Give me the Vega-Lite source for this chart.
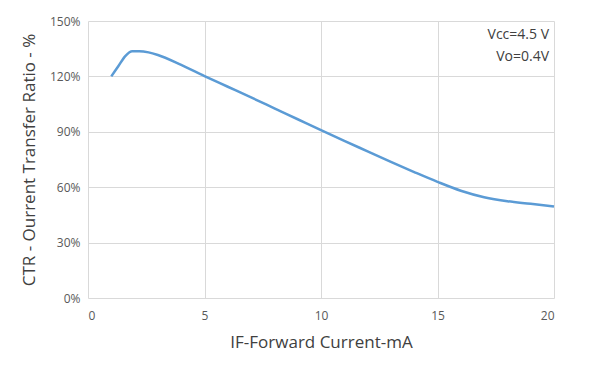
{
  "$schema": "https://vega.github.io/schema/vega-lite/v6.json",
  "autosize": "none",
  "width": 466,
  "height": 277,
  "padding": {"left": 88, "top": 21, "right": 43, "bottom": 87},
  "background": "white",
  "config": {
    "view": {"stroke": null},
    "font": "Open Sans",
    "axis": {
      "grid": true,
      "gridColor": "#d9d9d9",
      "gridWidth": 1,
      "domain": false,
      "ticks": false,
      "labelColor": "#595959",
      "labelFontSize": 12,
      "titleColor": "#404040",
      "titleFontSize": 17,
      "titleFontWeight": "normal"
    }
  },
  "layer": [
    {
      "data": {
        "values": [
          {"i": 1, "ctr": 120},
          {"i": 1.3, "ctr": 125.5},
          {"i": 1.6, "ctr": 131},
          {"i": 1.9, "ctr": 133.6},
          {"i": 2.2, "ctr": 133.6},
          {"i": 2.6, "ctr": 133},
          {"i": 3, "ctr": 131.6},
          {"i": 4, "ctr": 126.2},
          {"i": 5, "ctr": 120.2},
          {"i": 6, "ctr": 114.4},
          {"i": 7, "ctr": 108.6},
          {"i": 8, "ctr": 102.7},
          {"i": 9, "ctr": 96.8},
          {"i": 10, "ctr": 90.9},
          {"i": 11, "ctr": 85.1},
          {"i": 12, "ctr": 79.4},
          {"i": 13, "ctr": 73.7},
          {"i": 14, "ctr": 68.2},
          {"i": 15, "ctr": 62.9},
          {"i": 16, "ctr": 58.1},
          {"i": 17, "ctr": 54.6},
          {"i": 18, "ctr": 52.4},
          {"i": 19, "ctr": 51.0},
          {"i": 20, "ctr": 49.5}
        ]
      },
      "mark": {"type": "line", "color": "#5b9bd5", "strokeWidth": 2.5, "interpolate": "monotone"},
      "encoding": {
        "x": {
          "field": "i", "type": "quantitative",
          "scale": {"domain": [0, 20], "nice": false},
          "axis": {"values": [0, 5, 10, 15, 20], "labelPadding": 12, "title": "IF-Forward Current-mA", "titlePadding": 13}
        },
        "y": {
          "field": "ctr", "type": "quantitative",
          "scale": {"domain": [0, 150], "nice": false},
          "axis": {"values": [0, 30, 60, 90, 120, 150], "labelExpr": "datum.value + '%'", "labelPadding": 8, "title": "CTR - Ourrent Transfer Ratio - %", "titlePadding": 11}
        }
      }
    },
    {
      "data": {
        "values": [
          {"i": 20, "ctr": 142.5, "t": "Vcc=4.5 V"},
          {"i": 20, "ctr": 130.5, "t": "Vo=0.4V"}
        ]
      },
      "mark": {"type": "text", "align": "right", "baseline": "middle", "dx": -5, "fontSize": 14, "color": "#404040", "font": "Open Sans"},
      "encoding": {
        "x": {"field": "i", "type": "quantitative"},
        "y": {"field": "ctr", "type": "quantitative"},
        "text": {"field": "t"}
      }
    }
  ]
}
